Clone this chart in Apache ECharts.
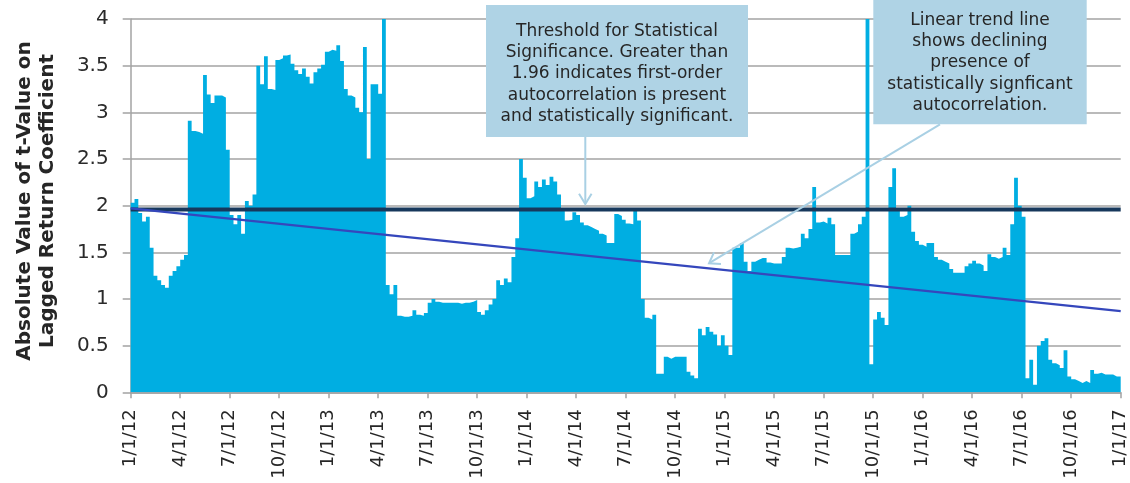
<!DOCTYPE html>
<html><head><meta charset="utf-8">
<script src="https://cdn.jsdelivr.net/npm/echarts@6/dist/echarts.min.js"></script>
<style>html,body{margin:0;padding:0;background:#fff}#c{width:1130px;height:483px}</style>
</head><body><div id="c"></div>
<script>
// Quarter tick labels
const xLabels = ['1/1/12','4/1/12','7/1/12','10/1/12','1/1/13','4/1/13','7/1/13','10/1/13','1/1/14','4/1/14','7/1/14','10/1/14','1/1/15','4/1/15','7/1/15','10/1/15','1/1/16','4/1/16','7/1/16','10/1/16','1/1/17'];
// Weekly |t-values|, one array per year (52 weeks each)
const y2012 = [2.03,2.07,1.92,1.83,1.88,1.55,1.25,1.20,1.15,1.12,1.25,1.30,1.35,1.42,1.47,2.91,2.80,2.79,2.77,3.40,3.19,3.10,3.18,3.18,3.16,2.60,1.90,1.80,1.90,1.70,2.05,2.00,2.12,3.50,3.30,3.60,3.25,3.24,3.56,3.58,3.61,3.62,3.52,3.45,3.41,3.47,3.38,3.31,3.43,3.47,3.51,3.65];
const y2013 = [3.67,3.66,3.72,3.55,3.25,3.18,3.16,3.05,3.00,3.70,2.50,3.30,3.30,3.20,4.00,1.15,1.05,1.15,0.82,0.81,0.81,0.82,0.88,0.83,0.82,0.85,0.96,1.00,0.97,0.96,0.96,0.96,0.96,0.96,0.95,0.96,0.96,0.97,0.99,0.86,0.83,0.88,0.94,1.00,1.20,1.15,1.22,1.18,1.45,1.65,2.50,2.30];
const y2014 = [2.08,2.10,2.26,2.20,2.28,2.22,2.31,2.26,2.12,1.95,1.84,1.85,1.93,1.90,1.82,1.79,1.77,1.75,1.73,1.70,1.68,1.60,1.60,1.91,1.89,1.85,1.81,1.80,1.97,1.84,1.00,0.80,0.78,0.83,0.20,0.20,0.38,0.36,0.38,0.38,0.38,0.38,0.22,0.18,0.15,0.68,0.61,0.70,0.65,0.62,0.50,0.61];
const y2015 = [0.50,0.40,1.55,1.55,1.60,1.40,1.30,1.40,1.42,1.44,1.44,1.39,1.38,1.38,1.38,1.45,1.55,1.54,1.55,1.56,1.70,1.65,1.75,2.20,1.82,1.83,1.81,1.87,1.80,1.47,1.47,1.47,1.47,1.70,1.72,1.80,1.88,4.00,0.30,0.78,0.86,0.80,0.72,2.20,2.40,1.95,1.88,1.90,2.00,1.72,1.62,1.58];
const y2016 = [1.56,1.60,1.60,1.45,1.42,1.40,1.38,1.32,1.28,1.28,1.28,1.35,1.38,1.41,1.38,1.36,1.30,1.48,1.45,1.43,1.45,1.55,1.47,1.80,2.30,2.00,1.88,0.15,0.35,0.08,0.50,0.55,0.58,0.35,0.31,0.29,0.26,0.45,0.17,0.14,0.12,0.10,0.12,0.10,0.24,0.20,0.21,0.19,0.19,0.19,0.17,0.17];
const threshold = 1.96;          // significance threshold
const trendEnds = [1.97, 0.87];  // linear trend line at start and end
const weeksPerQuarter = 13;

const values = [].concat(y2012, y2013, y2014, y2015, y2016);
const n = values.length;
const areaData = values.map((v, i) => [i, v]);
areaData.push([n, values[n - 1]]);

const FONT = "'DejaVu Sans', sans-serif";
const GRID = '#A3A3A3';
const BOX = '#AFD3E5';
const ARROW = '#A9D0E4';

function arrowHead(tipX, tipY, fromX, fromY, len, spread) {
  const a = Math.atan2(fromY - tipY, fromX - tipX);
  return [
    [tipX + len * Math.cos(a + spread), tipY + len * Math.sin(a + spread)],
    [tipX, tipY],
    [tipX + len * Math.cos(a - spread), tipY + len * Math.sin(a - spread)]
  ];
}

const chart = echarts.init(document.getElementById('c'), null, { renderer: 'canvas' });
chart.setOption({
  animation: false,
  grid: { left: 130.7, right: 9.3, top: 19, bottom: 90.7 },
  xAxis: {
    type: 'value', min: 0, max: n, interval: weeksPerQuarter,
    axisLine: { lineStyle: { color: GRID, width: 1.5 } },
    axisTick: { show: true, length: 6, lineStyle: { color: GRID, width: 1.5 } },
    splitLine: { show: false },
    axisLabel: {
      rotate: 90, margin: 17, fontSize: 18, color: '#262626', fontFamily: FONT,
      showMinLabel: true, showMaxLabel: true, hideOverlap: false,
      formatter: v => xLabels[Math.round(v / weeksPerQuarter)] || ''
    }
  },
  yAxis: {
    type: 'value', min: 0, max: 4, interval: 0.5,
    axisLine: { show: true, lineStyle: { color: GRID, width: 1.5 } },
    axisTick: { show: true, length: 8, lineStyle: { color: GRID, width: 1.5 } },
    splitLine: { show: true, lineStyle: { color: GRID, width: 1.5 } },
    axisLabel: { margin: 22, fontSize: 20, color: '#2a2a2a', fontFamily: FONT }
  },
  series: [
    {
      type: 'line', data: areaData, step: 'end', symbol: 'none', silent: true,
      lineStyle: { width: 0 }, areaStyle: { color: '#00AEE2', opacity: 1 }, z: 2
    },
    {
      type: 'line', data: [[0, threshold], [n, threshold]], symbol: 'none', silent: true,
      lineStyle: { color: '#17385C', width: 4 }, z: 3
    },
    {
      type: 'line', data: [[0, trendEnds[0]], [n, trendEnds[1]]], symbol: 'none', silent: true,
      lineStyle: { color: '#3547BC', width: 2.2 }, z: 4
    }
  ],
  graphic: [
    {
      type: 'text', x: 36.5, y: 201, rotation: Math.PI / 2, z: 10,
      style: {
        text: 'Absolute Value of t-Value on\nLagged Return Coefficient',
        font: "bold 20px 'DejaVu Sans', sans-serif", fill: '#262626',
        align: 'center', verticalAlign: 'middle', textAlign: 'center', textVerticalAlign: 'middle',
        lineHeight: 23
      }
    },
    { type: 'rect', z: 20, shape: { x: 486, y: 5, width: 262, height: 132 }, style: { fill: BOX } },
    {
      type: 'text', x: 617, y: 74, z: 21,
      style: {
        text: 'Threshold for Statistical\nSignificance. Greater than\n1.96 indicates first-order\nautocorrelation is present\nand statistically significant.',
        font: '17px ' + FONT, fill: '#262626', lineHeight: 21.2,
        align: 'center', verticalAlign: 'middle', textAlign: 'center', textVerticalAlign: 'middle'
      }
    },
    { type: 'line', z: 21, shape: { x1: 585.3, y1: 137, x2: 585.3, y2: 203 }, style: { stroke: ARROW, lineWidth: 2 } },
    { type: 'polyline', z: 21, shape: { points: arrowHead(585.3, 204, 585.3, 137, 12, 0.55) }, style: { stroke: ARROW, lineWidth: 2, fill: null } },
    { type: 'rect', z: 20, shape: { x: 873.3, y: -5, width: 213.4, height: 129.3 }, style: { fill: BOX } },
    {
      type: 'text', x: 980, y: 63, z: 21,
      style: {
        text: 'Linear trend line\nshows declining\npresence of\nstatistically signficant\nautocorrelation.',
        font: '17px ' + FONT, fill: '#262626', lineHeight: 21.1,
        align: 'center', verticalAlign: 'middle', textAlign: 'center', textVerticalAlign: 'middle'
      }
    },
    { type: 'line', z: 21, shape: { x1: 940, y1: 124.3, x2: 710, y2: 262.7 }, style: { stroke: ARROW, lineWidth: 2 } },
    { type: 'polyline', z: 21, shape: { points: arrowHead(709, 263.3, 940, 124.3, 12, 0.6) }, style: { stroke: ARROW, lineWidth: 2, fill: null } }
  ]
});
</script></body></html>
